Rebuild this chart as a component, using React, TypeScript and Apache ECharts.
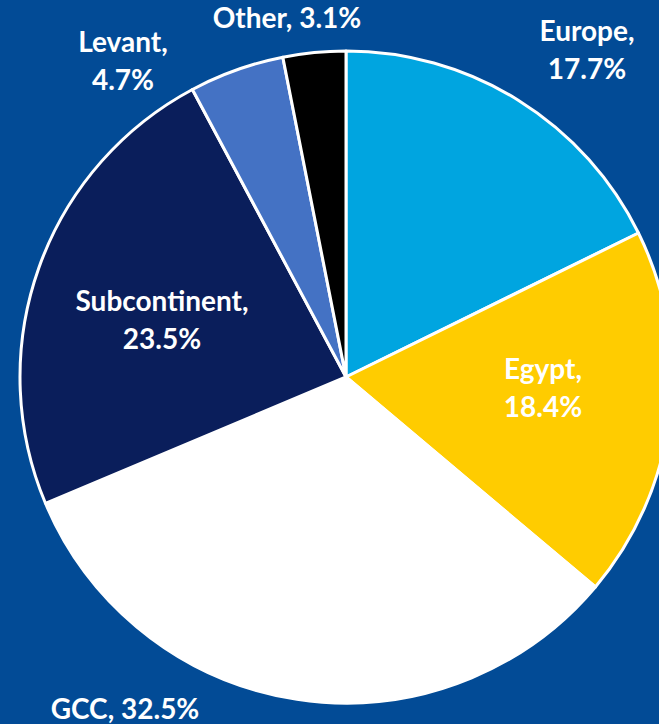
import React, { useEffect, useRef } from "react";
import * as echarts from "echarts";

const categories = ["Europe", "Egypt", "GCC", "Subcontinent", "Levant", "Other"];
const shares = [17.7, 18.4, 32.5, 23.5, 4.7, 3.1];
const sliceColors = ["#00A5E0", "#FFCC00", "#FFFFFF", "#0A1E5B", "#4472C4", "#000000"];
const twoLineLabel = [true, true, false, true, true, false];

// label anchor positions (pixels), per slice
const labelPos: [number, number][] = [
  [587, 49],
  [543, 387],
  [125, 708],
  [162, 319],
  [123, 60],
  [287, 17],
];

export default function App() {
  const ref = useRef<HTMLDivElement>(null);
  useEffect(() => {
    if (!ref.current) return;
    const chart = echarts.init(ref.current, null, { renderer: "svg" });
    chart.setOption({
      animation: false,
      backgroundColor: "#024B96",
      series: [
        {
          type: "pie",
          center: [346, 377],
          radius: 326,
          startAngle: 90,
          clockwise: true,
          itemStyle: { borderColor: "#FFFFFF", borderWidth: 3 },
          label: {
            show: true,
            position: "inside",
            color: "#FFFFFF",
            fontFamily: "Lato",
            fontWeight: "bold",
            fontSize: 28,
            lineHeight: 38,
            textBorderWidth: 0,
            formatter: (p: any) =>
              twoLineLabel[p.dataIndex] ? `${p.name},\n${p.value}%` : `${p.name}, ${p.value}%`,
          },
          labelLine: { show: false },
          labelLayout: (p: any) => ({
            x: labelPos[p.dataIndex][0],
            y: labelPos[p.dataIndex][1],
            align: "center",
            verticalAlign: "middle",
          }),
          data: categories.map((c, i) => ({
            name: c,
            value: shares[i],
            itemStyle: { color: sliceColors[i] },
          })),
        },
      ],
    });
    return () => chart.dispose();
  }, []);
  return (
    <div
      ref={ref}
      style={{ position: "fixed", left: 0, top: 0, width: 659, height: 724 }}
    />
  );
}
